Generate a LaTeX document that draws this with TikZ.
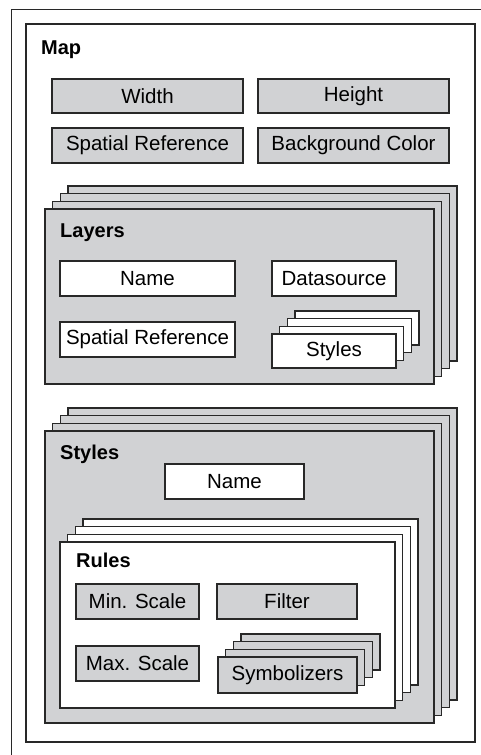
\documentclass[tikz,border=0pt]{standalone}
\usepackage{fontspec}
\setmainfont{Liberation Sans}

\definecolor{panelgray}{RGB}{209,210,212}
\definecolor{edgecol}{RGB}{40,40,40}

\tikzset{
  % gray field with a label
  field/.style={draw=edgecol, fill=panelgray, line width=1.3pt, inner sep=0pt,
    font=\fontsize{20.5}{24}\selectfont},
  % same, white
  wfield/.style={field, fill=white},
  % big sheets of a stack
  panel/.style={draw=edgecol, fill=panelgray, line width=1.5pt},
  wpanel/.style={panel, fill=white},
  % bold headings
  heading/.style={anchor=base west, inner sep=0pt,
    font=\fontsize{20}{24}\selectfont\bfseries},
}

\begin{document}
\begin{tikzpicture}[x=1pt,y=-1pt]
\useasboundingbox (0,0) rectangle (481,755);

% frame and map
\draw[edgecol,line width=1pt] (11,755) -- (11,9) -- (481,9);
\draw[edgecol,line width=1.2pt,fill=white] (26,24) rectangle (475,742);
\node[heading] (map) at (41,54) {Map};

\node[field,minimum width=191,minimum height=34] (width) at (147.5,96) {Width};
\node[field,minimum width=191,minimum height=34] (height) at (353.5,96) {Height};
\node[field,minimum width=191,minimum height=35] (mapsref) at (147.5,145.5) {Spatial Reference};
\node[field,minimum width=191,minimum height=35] (bgcolor) at (353.5,145.5) {Background Color};

% layers
\foreach \k in {3,2,1}
  \draw[panel] (45+7.7*\k,209-7.7*\k) rectangle (434+7.7*\k,384-7.7*\k);
\draw[panel] (45,209) rectangle (434,384);
\node[heading] (layers) at (60,237) {Layers};

\node[wfield,minimum width=175,minimum height=35] (lname) at (147.5,278.5) {Name};
\node[wfield,minimum width=124,minimum height=35] (dsource) at (334,278.5) {Datasource};
\node[wfield,minimum width=175,minimum height=35] (lsref) at (147.5,339.5) {Spatial Reference};
\foreach \k in {3,2,1}
  \draw[wpanel,line width=1.3pt] (272+7.7*\k,334-7.7*\k) rectangle (396+7.7*\k,368-7.7*\k);
\node[wfield,minimum width=124,minimum height=34] (lstyles) at (334,351) {Styles};

% styles
\foreach \k in {3,2,1}
  \draw[panel] (45+7.7*\k,431-7.7*\k) rectangle (434+7.7*\k,723-7.7*\k);
\draw[panel] (45,431) rectangle (434,723);
\node[heading] (styles) at (60,459) {Styles};

\node[wfield,minimum width=139,minimum height=35] (sname) at (234.5,481.5) {Name};

% rules
\foreach \k in {3,2,1}
  \draw[wpanel] (60+7.7*\k,542-7.7*\k) rectangle (395+7.7*\k,708-7.7*\k);
\draw[wpanel] (60,542) rectangle (395,708);
\node[heading] (rules) at (76,567) {Rules};

\node[field,minimum width=123,minimum height=35] (minscale) at (137.5,601.5) {Min. Scale};
\node[field,minimum width=140,minimum height=35] (filter) at (287,601.5) {Filter};
\node[field,minimum width=123,minimum height=35] (maxscale) at (137.5,663.5) {Max. Scale};
\foreach \k in {3,2,1}
  \draw[field] (218+7.7*\k,657-7.7*\k) rectangle (357+7.7*\k,693-7.7*\k);
\node[field,minimum width=139,minimum height=36] (symb) at (287.5,675) {Symbolizers};

\end{tikzpicture}
\end{document}
